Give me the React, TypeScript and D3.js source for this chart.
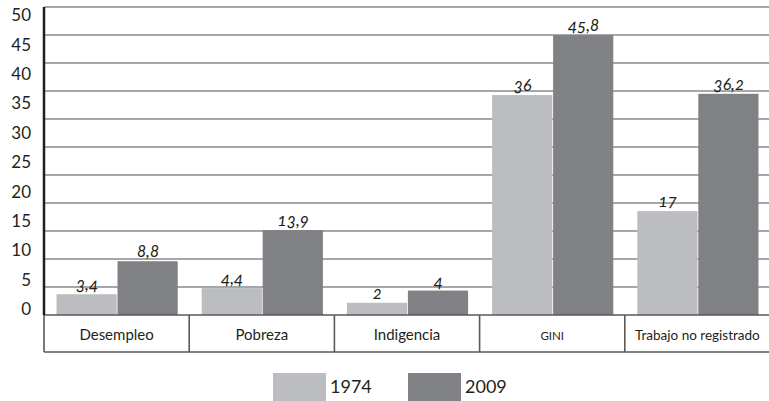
import React from "react";
import * as d3 from "d3";

const categories = ["Desempleo", "Pobreza", "Indigencia", "GINI", "Trabajo no registrado"];
const series = ["1974", "2009"];
const values1974 = [3.4, 4.4, 2, 36, 17];
const values2009 = [8.8, 13.9, 4, 45.8, 36.2];
const labels1974 = ["3,4", "4,4", "2", "36", "17"];
const labels2009 = ["8,8", "13,9", "4", "45,8", "36,2"];
const yTicks = [0, 5, 10, 15, 20, 25, 30, 35, 40, 45, 50];
const colors = ["#bcbdc0", "#808184"];

const W = 769;
const H = 401;
const left = 44;
const right = 770;
const base = 315;
const top = 7;
const tableBottom = 352;

export default function App() {
  const x0 = d3.scaleBand<string>().domain(categories).range([left, right]);
  const x1 = d3.scaleBand<string>().domain(series).range([12.5, 134.5]);
  const y = d3.scaleLinear().domain([0, 50]).range([base, 9.5]);
  const yLabel = d3.scaleLinear().domain([0, 50]).range([309, 15]);
  const grid = d3.scaleLinear().domain([0, 11]).range([base, top]);
  const gridLines = d3.range(1, 12);
  const valueSets = [values1974, values2009];
  const labelSets = [labels1974, labels2009];
  const font = "Lato, 'Open Sans', sans-serif";

  return (
    <svg width={W} height={H} style={{ position: "absolute", left: 0, top: 0 }}>
      <rect width={W} height={H} fill="#fff" />
      {gridLines.map((g) => (
        <line key={g} x1={left} x2={W} y1={grid(g)} y2={grid(g)} stroke="#8a8a8c" strokeWidth={1.6} />
      ))}
      {categories.map((c, i) =>
        series.map((s, j) => {
          const v = valueSets[j][i];
          const bx = (x0(c) as number) + (x1(s) as number);
          return (
            <g key={c + s}>
              <rect x={bx} y={y(v)} width={x1.bandwidth() - 0.8} height={base - y(v)} fill={colors[j]} />
              <text
                x={bx + x1.bandwidth() / 2}
                y={y(v) - 4}
                textAnchor="middle"
                fontFamily={font}
                fontStyle="italic"
                fontSize={17}
                fill="#231f20"
                style={{ fontFeatureSettings: "'onum'" }}
              >
                {labelSets[j][i]}
              </text>
            </g>
          );
        })
      )}
      {/* table */}
      <line x1={left} x2={W} y1={base} y2={base} stroke="#58595b" strokeWidth={1.6} />
      <line x1={left} x2={W} y1={tableBottom} y2={tableBottom} stroke="#58595b" strokeWidth={1.6} />
      {categories.map((c) => (
        <line key={c} x1={x0(c) as number} x2={x0(c) as number} y1={base} y2={tableBottom} stroke="#58595b" strokeWidth={1.6} />
      ))}
      <line x1={left} x2={left} y1={top} y2={base} stroke="#231f20" strokeWidth={2.5} />
      {categories.map((c) => (
        <text
          key={c}
          x={(x0(c) as number) + x0.bandwidth() / 2}
          y={340}
          textAnchor="middle"
          fontFamily={font}
          fontSize={c === "GINI" ? 11.5 : c.length > 12 ? 13.5 : 15}
          fill="#231f20"
        >
          {c}
        </text>
      ))}
      {yTicks.map((t) => (
        <text key={t} x={31} y={yLabel(t)} dy="0.36em" textAnchor="end" fontFamily={font} fontSize={17} fill="#231f20">
          {t}
        </text>
      ))}
      {/* legend */}
      {series.map((s, j) => (
        <g key={s} transform={`translate(${273 + j * 135},373)`}>
          <rect width={53} height={28} fill={colors[j]} />
          <text x={57} y={20} fontFamily={font} fontSize={18} fill="#231f20">
            {s}
          </text>
        </g>
      ))}
    </svg>
  );
}
